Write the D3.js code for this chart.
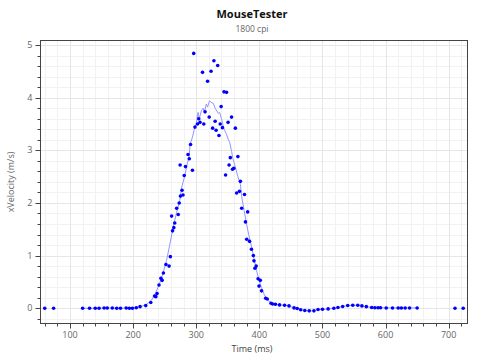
<!DOCTYPE html>
<html><head><meta charset="utf-8">
<script src="https://cdn.jsdelivr.net/npm/d3@7"></script>
<style>
html,body{margin:0;padding:0;background:#fff;}
svg{display:block;font-family:"Open Sans","Noto Sans",sans-serif;}
</style></head>
<body><svg id="c" width="480" height="360"></svg>
<script>
const title = "MouseTester";
const subtitle = "1800 cpi";
const xTitle = "Time (ms)";
const yTitle = "xVelocity (m/s)";
const xTicks = [100, 200, 300, 400, 500, 600, 700];
const yTicks = [0, 1, 2, 3, 4, 5];

// scatter samples: time (ms)
const pointTime = [60, 74, 120, 131, 140, 146, 154, 159, 167, 174, 180, 189, 194, 199, 205, 211, 220, 228, 234, 236, 238, 241, 244, 246, 248, 252, 257, 259, 261, 262.5, 264.5, 266, 269, 271.5, 273, 274.5, 275, 277.5, 279, 281, 283, 287, 289, 291, 294, 296, 298, 302, 304, 306, 310, 312, 314, 318, 320.5, 323.5, 326, 328, 330, 331.5, 334, 336, 338, 339.5, 341.5, 344, 346.5, 348, 350.5, 352, 354, 356, 357.5, 359.5, 362, 364, 366, 368.5, 370, 372, 376.5, 378, 380, 381.5, 384.5, 387.5, 390.5, 391.5, 393, 395, 398, 399.5, 401.5, 403.5, 410, 412.5, 418.5, 421, 425.5, 432, 440, 447, 455, 460, 465.5, 472, 479, 486.5, 493, 500, 509, 518, 524.5, 532, 540, 548, 556, 562.5, 569.5, 578, 583, 588, 592, 601, 611, 620, 625, 631, 638, 650, 710, 723];
// scatter samples: xVelocity (m/s)
const pointVel = [0, 0, 0, 0, 0, 0, 0.005, 0.005, 0.005, 0, 0, 0.005, 0, 0, 0.01, 0.03, 0.05, 0.11, 0.23, 0.22, 0.28, 0.44, 0.57, 0.53, 0.67, 0.83, 0.80, 0.98, 1.75, 1.47, 1.53, 1.62, 1.90, 1.78, 2.00, 2.72, 2.13, 2.24, 2.15, 2.52, 2.69, 2.92, 2.84, 3.11, 2.62, 4.84, 3.44, 3.50, 3.60, 3.53, 4.48, 3.50, 3.73, 4.31, 3.63, 4.50, 3.42, 4.70, 3.55, 3.38, 4.61, 3.28, 3.50, 3.83, 3.43, 4.11, 2.53, 4.10, 3.53, 2.72, 2.86, 3.63, 2.64, 2.66, 3.42, 2.19, 2.88, 2.22, 2.41, 1.90, 2.16, 1.64, 1.31, 1.83, 1.27, 1.12, 1.00, 0.90, 0.76, 0.80, 0.56, 0.42, 0.53, 0.33, 0.19, 0.175, 0.095, 0.08, 0.075, 0.063, 0.057, 0.044, 0.006, -0.006, -0.03, -0.044, -0.05, -0.05, -0.025, -0.02, -0.013, 0, 0.013, 0.032, 0.051, 0.057, 0.057, 0.044, 0.03, 0.015, 0.01, 0.01, 0.01, 0.005, 0.005, 0.005, 0.005, 0.005, 0.005, 0.005, 0, 0];

// smoothed line: time (ms)
const lineTime = [120, 200, 211, 220, 229, 235, 242, 247, 253, 258, 263.5, 269, 274, 277, 282, 285, 289, 290, 294, 298, 300, 303, 305, 308, 311, 313, 316, 318, 321, 323, 325, 327, 330, 335, 337, 340, 343, 345, 348, 351, 353, 356, 358, 362, 366, 370, 372, 376, 380, 384, 388, 392, 395.5, 399, 403, 408, 414, 419, 423, 432, 440, 447, 455, 460, 466, 472, 479, 486, 493, 500, 509, 518, 524, 532, 540, 548, 556, 562, 570, 578, 590, 610, 650];
// smoothed line: xVelocity (m/s)
const lineVel = [0, 0.005, 0.03, 0.06, 0.15, 0.27, 0.47, 0.65, 0.91, 1.2, 1.55, 1.82, 2.05, 2.3, 2.52, 2.7, 2.9, 3.10, 3.25, 3.45, 3.5, 3.72, 3.6, 3.75, 3.80, 3.72, 3.88, 3.82, 3.94, 3.92, 3.90, 3.89, 3.80, 3.70, 3.72, 3.60, 3.45, 3.38, 3.30, 3.20, 3.15, 2.98, 2.85, 2.68, 2.50, 2.35, 2.12, 1.85, 1.58, 1.35, 1.15, 0.92, 0.72, 0.55, 0.40, 0.25, 0.15, 0.10, 0.08, 0.063, 0.057, 0.044, 0.006, -0.006, -0.03, -0.044, -0.05, -0.05, -0.025, -0.02, -0.013, 0, 0.013, 0.032, 0.051, 0.057, 0.057, 0.044, 0.03, 0.015, 0.01, 0.005, 0.005];

const svg = d3.select("#c");
const L = 40.5, R = 467.5, T = 40.5, B = 323.5;
const x = d3.scaleLinear().domain([53.26, 729.8]).range([L, R]);
const y = d3.scaleLinear().domain([-0.29, 5.085]).range([B, T]);

const xMinor = d3.range(60, 730, 20);
const yMinor = d3.range(-0.2, 5.05, 0.2).map(v => Math.round(v * 10) / 10);

// grid
const g = svg.append("g");
g.selectAll(".gxm").data(xMinor).join("line")
  .attr("x1", d => Math.round(x(d)) + 0.5).attr("x2", d => Math.round(x(d)) + 0.5)
  .attr("y1", T).attr("y2", B).attr("stroke", "#f2f2f2").attr("stroke-width", 1);
g.selectAll(".gym").data(yMinor).join("line")
  .attr("y1", d => Math.round(y(d)) + 0.5).attr("y2", d => Math.round(y(d)) + 0.5)
  .attr("x1", L).attr("x2", R).attr("stroke", "#f2f2f2").attr("stroke-width", 1);
g.selectAll(".gx").data(xTicks).join("line")
  .attr("x1", d => Math.round(x(d)) + 0.5).attr("x2", d => Math.round(x(d)) + 0.5)
  .attr("y1", T).attr("y2", B).attr("stroke", "#e6e6e6").attr("stroke-width", 1);
g.selectAll(".gy").data(yTicks).join("line")
  .attr("y1", d => Math.round(y(d)) + 0.5).attr("y2", d => Math.round(y(d)) + 0.5)
  .attr("x1", L).attr("x2", R).attr("stroke", "#e6e6e6").attr("stroke-width", 1);

// line
const lineData = lineTime.map((t, i) => [t, lineVel[i]]);
svg.append("path").datum(lineData)
  .attr("fill", "none").attr("stroke", "#9494ff").attr("stroke-width", 1)
  .attr("d", d3.line().x(d => x(d[0])).y(d => y(d[1])));

// points
const pts = pointTime.map((t, i) => [t, pointVel[i]]);
svg.append("g").selectAll("circle").data(pts).join("circle")
  .attr("cx", d => x(d[0])).attr("cy", d => y(d[1])).attr("r", 1.8)
  .attr("fill", "#0000ff");

// frame
svg.append("rect").attr("x", L).attr("y", T).attr("width", R - L).attr("height", B - T)
  .attr("fill", "none").attr("stroke", "#444").attr("stroke-width", 1);

// axes ticks
const ax = svg.append("g").attr("transform", `translate(0,${B})`);
ax.selectAll(".mt").data(xMinor).join("line")
  .attr("x1", d => Math.round(x(d)) + 0.5).attr("x2", d => Math.round(x(d)) + 0.5)
  .attr("y1", 0).attr("y2", 3).attr("stroke", "#444");
ax.selectAll(".Mt").data(xTicks).join("line")
  .attr("x1", d => Math.round(x(d)) + 0.5).attr("x2", d => Math.round(x(d)) + 0.5)
  .attr("y1", 0).attr("y2", 5).attr("stroke", "#444");
ax.selectAll("text").data(xTicks).join("text")
  .attr("x", d => x(d)).attr("y", 14.5).attr("text-anchor", "middle")
  .attr("font-size", 9).attr("fill", "#666").text(d => d);

const ay = svg.append("g").attr("transform", `translate(${L},0)`);
ay.selectAll(".mt").data(yMinor).join("line")
  .attr("y1", d => Math.round(y(d)) + 0.5).attr("y2", d => Math.round(y(d)) + 0.5)
  .attr("x1", 0).attr("x2", -3).attr("stroke", "#444");
ay.selectAll(".Mt").data(yTicks).join("line")
  .attr("y1", d => Math.round(y(d)) + 0.5).attr("y2", d => Math.round(y(d)) + 0.5)
  .attr("x1", 0).attr("x2", -5).attr("stroke", "#444");
ay.selectAll("text").data(yTicks).join("text")
  .attr("x", -8).attr("y", d => y(d)).attr("dy", "0.35em").attr("text-anchor", "end")
  .attr("font-size", 9).attr("fill", "#666").text(d => d);

// titles
svg.append("text").attr("x", 252).attr("y", 18).attr("text-anchor", "middle")
  .attr("font-size", 11).attr("font-weight", "bold").attr("fill", "#111").text(title);
svg.append("text").attr("x", 252).attr("y", 32).attr("text-anchor", "middle")
  .attr("font-size", 8.5).attr("fill", "#666").text(subtitle);
svg.append("text").attr("x", 252).attr("y", 351.5).attr("text-anchor", "middle")
  .attr("font-size", 9).attr("fill", "#444").text(xTitle);
svg.append("text").attr("transform", `translate(14,${(T + B) / 2}) rotate(-90)`)
  .attr("text-anchor", "middle").attr("font-size", 9).attr("fill", "#666").text(yTitle);
</script></body></html>
